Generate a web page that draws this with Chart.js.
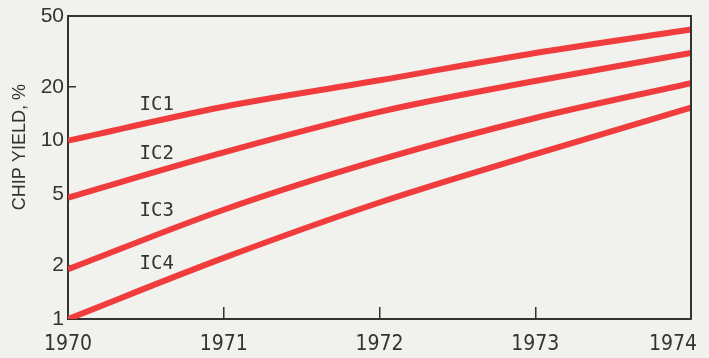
<!DOCTYPE html>
<html>
<head>
<meta charset="utf-8">
<script src="https://cdn.jsdelivr.net/npm/chart.js@4.4.1/dist/chart.umd.min.js"></script>
<style>
  html, body { margin: 0; padding: 0; background: #f1f1ed; }
  #chipChart { display: block; }
</style>
</head>
<body>
<canvas id="chipChart" width="709" height="358"></canvas>
<script>
// values (chip yield, %)
var years = [1970, 1971, 1972, 1973, 1974];
var ic1 = [10, 15.5, 21.8, 31, 42];
var ic2 = [4.8, 8.6, 14.5, 21.6, 31];
var ic3 = [1.9, 4.1, 7.8, 13.4, 21];
var ic4 = [1.0, 2.2, 4.5, 8.4, 15.3];
var seriesNames = ["IC1", "IC2", "IC3", "IC4"];
var xTicks = [1970, 1971, 1972, 1973, 1974];
var yTicks = [1, 2, 5, 10, 20, 50];

var ink = "#333333";
var red = "#f03c3c";

function toPoints(values) {
  return values.map(function (v, i) {
    return { x: years[i], y: v };
  });
}

// paper background
var paperPlugin = {
  id: "paper",
  beforeDraw: function (chart) {
    var ctx = chart.ctx;
    ctx.save();
    ctx.fillStyle = "#f1f1ed";
    ctx.fillRect(0, 0, chart.width, chart.height);
    ctx.restore();
  },
};

// top/right frame, condensed year labels, axis title and curve labels
var framePlugin = {
  id: "frame",
  afterDraw: function (chart) {
    var ctx = chart.ctx;
    var a = chart.chartArea;
    var xs = chart.scales.x;
    var ys = chart.scales.y;
    ctx.save();
    ctx.strokeStyle = ink;
    ctx.lineWidth = 2;
    ctx.beginPath();
    ctx.moveTo(a.left, a.top);
    ctx.lineTo(a.right, a.top);
    ctx.lineTo(a.right, a.bottom);
    ctx.stroke();

    // year labels under the axis
    ctx.fillStyle = ink;
    ctx.font = "21px 'DejaVu Sans', sans-serif";
    ctx.fontStretch = "condensed";
    ctx.textAlign = "center";
    ctx.textBaseline = "alphabetic";
    xs.ticks.forEach(function (t) {
      var txt = String(t.value);
      var w = ctx.measureText(txt).width;
      var px = Math.min(xs.getPixelForValue(t.value), chart.width - 12 - w / 2);
      ctx.fillText(txt, px, a.bottom + 31);
    });
    ctx.restore();

    // y axis title
    ctx.save();
    ctx.fillStyle = ink;
    ctx.font = "18px 'Liberation Sans', Arial, sans-serif";
    ctx.textAlign = "center";
    ctx.textBaseline = "middle";
    ctx.translate(20, ys.getPixelForValue(9.2));
    ctx.rotate(-Math.PI / 2);
    ctx.fillText("CHIP YIELD, %", 0, 0);
    ctx.restore();

    // curve labels
    var labelAt = [15.8, 8.4, 4.03, 2.03];
    ctx.save();
    ctx.fillStyle = ink;
    ctx.font = "19px 'DejaVu Sans Mono', monospace";
    ctx.textAlign = "center";
    ctx.textBaseline = "middle";
    seriesNames.forEach(function (name, i) {
      ctx.fillText(name, xs.getPixelForValue(1970.57), ys.getPixelForValue(labelAt[i]));
    });
    ctx.restore();
  },
};

var ctxChip = document.getElementById("chipChart").getContext("2d");
new Chart(ctxChip, {
  type: "line",
  data: {
    datasets: [ic1, ic2, ic3, ic4].map(function (vals, i) {
      return {
        label: seriesNames[i],
        data: toPoints(vals),
        borderColor: red,
        borderWidth: 6,
        borderCapStyle: "butt",
        pointRadius: 0,
        cubicInterpolationMode: "monotone",
        fill: false,
      };
    }),
  },
  options: {
    responsive: false,
    animation: false,
    layout: { padding: { top: 16, right: 18, left: 0, bottom: 0 } },
    plugins: {
      legend: { display: false },
      tooltip: { enabled: false },
    },
    scales: {
      x: {
        type: "linear",
        min: 1970,
        max: 1974,
        afterBuildTicks: function (scale) {
          scale.ticks = xTicks.map(function (v) { return { value: v }; });
        },
        afterFit: function (scale) {
          scale.height = 39;
          scale.paddingLeft = 0;
          scale.paddingRight = 0;
        },
        grid: {
          drawOnChartArea: false,
          color: ink,
          lineWidth: 1.5,
          tickLength: -12,
        },
        border: { color: ink, width: 2 },
        ticks: { display: false },
      },
      y: {
        type: "logarithmic",
        min: 1,
        max: 50,
        afterBuildTicks: function (scale) {
          scale.ticks = yTicks.map(function (v) { return { value: v }; });
        },
        afterFit: function (scale) {
          scale.width = 68;
          scale.paddingTop = 0;
          scale.paddingBottom = 0;
        },
        grid: {
          drawOnChartArea: false,
          color: ink,
          lineWidth: 1.5,
          tickLength: -8,
        },
        border: { color: ink, width: 2 },
        ticks: {
          padding: 12,
          color: ink,
          font: { family: "'Liberation Sans', Arial, sans-serif", size: 21 },
          callback: function (value) { return String(value); },
        },
      },
    },
  },
  plugins: [paperPlugin, framePlugin],
});
</script>
</body>
</html>
